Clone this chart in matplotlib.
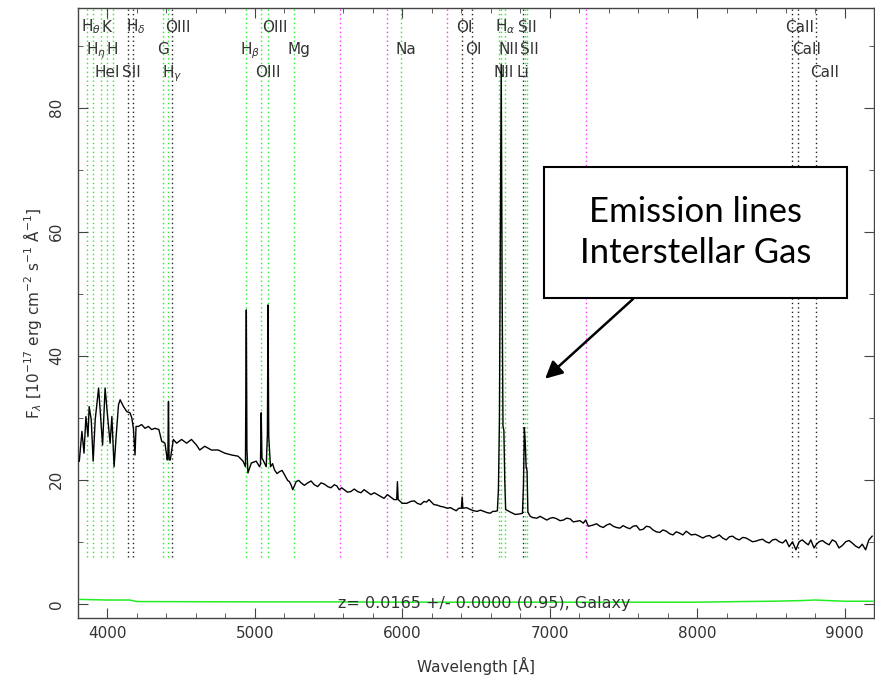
import numpy as np
import matplotlib.pyplot as plt
from matplotlib.patches import Rectangle

z = 0.0165

wave = [3809, 3827, 3841, 3854, 3868, 3876, 3890, 3903, 3917, 3940,
        3957, 3967, 3984, 4003, 4018, 4030, 4045, 4059, 4075, 4086,
        4109, 4131, 4153, 4165, 4176, 4187, 4194, 4210, 4232, 4255,
        4278, 4300, 4322, 4349, 4368, 4390, 4406, 4410, 4414, 4418,
        4426, 4447, 4469, 4503, 4537, 4570, 4604, 4626, 4660, 4705,
        4751, 4795, 4841, 4886, 4920, 4936, 4939, 4942, 4946, 4953,
        4976, 5009, 5032, 5038, 5043, 5048, 5055, 5077, 5085, 5089,
        5094, 5106, 5133, 5167, 5201, 5212, 5234, 5257, 5280, 5314,
        5359, 5403, 5449, 5494, 5539, 5572, 5606, 5651, 5697, 5741,
        5787, 5832, 5876, 5899, 5944, 5962, 5967, 5972, 6001, 6057,
        6102, 6147, 6181, 6214, 6260, 6305, 6349, 6383, 6401, 6406,
        6411, 6462, 6508, 6552, 6597, 6631, 6645, 6652, 6659, 6665,
        6671, 6677, 6683, 6689, 6695, 6701, 6732, 6766, 6800, 6815,
        6822, 6828, 6834, 6840, 6846, 6852, 6868, 6913, 6958, 7003,
        7048, 7093, 7138, 7183, 7228, 7244, 7262, 7295, 7341, 7386,
        7431, 7476, 7521, 7566, 7611, 7656, 7701, 7746, 7791, 7836,
        7880, 7926, 7960, 8015, 8062, 8106, 8150, 8197, 8241, 8286,
        8332, 8376, 8422, 8467, 8512, 8557, 8602, 8624, 8647, 8670,
        8692, 8737, 8771, 8793, 8827, 8872, 8917, 8962, 9008, 9052,
        9098, 9143, 9165, 9187]
flux = [23.0, 27.8, 24.3, 30.2, 27.0, 31.8, 29.7, 23.0, 29.7, 34.8,
        29.1, 25.6, 34.8, 29.7, 25.9, 30.2, 22.1, 27.0, 32.1, 32.9,
        31.8, 31.0, 30.8, 30.0, 28.3, 24.0, 28.6, 28.6, 28.9, 28.3,
        28.6, 28.1, 28.3, 28.1, 26.2, 25.9, 23.2, 24.0, 32.6, 23.2,
        23.2, 26.5, 25.9, 26.5, 25.9, 26.5, 25.6, 24.8, 25.4, 24.8,
        24.8, 24.3, 24.0, 23.8, 23.0, 22.1, 34.2, 47.4, 25.0, 21.1,
        22.7, 23.0, 22.1, 22.5, 30.8, 23.5, 23.2, 22.1, 27.3, 48.2,
        27.0, 22.1, 21.6, 21.3, 20.8, 20.3, 19.7, 18.4, 19.7, 19.5,
        19.5, 19.2, 19.5, 18.9, 19.2, 18.4, 18.4, 18.1, 18.1, 18.4,
        17.6, 17.6, 17.0, 17.6, 16.8, 16.8, 19.7, 16.8, 16.2, 16.5,
        16.2, 16.5, 16.8, 16.0, 15.7, 15.4, 15.2, 15.4, 15.4, 17.2,
        15.4, 15.2, 14.9, 14.9, 14.6, 14.9, 15.0, 18.4, 29.7, 60.0,
        87.0, 52.0, 28.6, 28.0, 20.0, 15.2, 14.8, 14.4, 14.5, 14.6,
        19.0, 28.4, 26.0, 22.1, 21.5, 14.8, 14.1, 13.8, 13.8, 13.8,
        13.7, 13.5, 13.7, 13.3, 13.0, 13.5, 12.5, 12.7, 12.5, 12.7,
        12.5, 12.2, 12.3, 12.5, 11.9, 12.5, 11.9, 11.5, 11.7, 11.1,
        11.4, 11.7, 11.1, 10.9, 10.9, 10.6, 11.1, 10.3, 10.9, 10.3,
        10.6, 10.0, 10.3, 10.0, 10.3, 10.0, 10.3, 9.2, 10.0, 8.7,
        10.0, 9.8, 10.3, 9.0, 10.0, 9.8, 10.3, 9.0, 10.0, 9.8,
        9.0, 8.7, 10.3, 10.9]

# finer wiggles of the continuum, read between the points above
wave_fine = [5120, 5150, 5185, 5222, 5245, 5268, 5297, 5336, 5381, 5426,
             5471, 5516, 5556, 5589, 5628, 5674, 5719, 5764, 5810, 5854,
             5921, 6030, 6080, 6125, 6164, 6198, 6237, 6282, 6327, 6366,
             6436, 6485, 6530, 6575, 6614, 6885, 6935, 6980, 7025, 7070,
             7115, 7160, 7205, 7318, 7363, 7408, 7453, 7498, 7543, 7588,
             7633, 7678, 7723, 7768, 7813, 7858, 7903, 7988, 8038, 8084,
             8128, 8173, 8219, 8263, 8309, 8354, 8399, 8444, 8489, 8534,
             8580, 8713, 8754, 8810, 8850, 8895, 8940, 8985, 9030, 9075,
             9120]
flux_fine = [22.6, 21.0, 21.5, 19.9, 19.2, 19.0, 19.9, 19.1, 19.8, 18.9,
             19.3, 18.7, 19.0, 18.7, 18.0, 18.5, 17.9, 18.0, 17.9, 17.3,
             17.2, 16.2, 16.6, 16.0, 16.4, 16.4, 15.9, 15.6, 15.5, 15.0,
             15.5, 15.0, 15.1, 14.7, 14.9, 13.9, 14.1, 13.5, 13.9, 13.4,
             13.8, 13.2, 13.4, 12.9, 12.3, 12.9, 12.3, 12.6, 12.1, 12.6,
             12.0, 12.4, 11.6, 11.9, 11.3, 11.6, 11.1, 11.2, 10.6, 11.0,
             10.8, 10.6, 10.8, 10.5, 10.7, 10.3, 10.1, 10.4, 9.8, 10.4,
             9.8, 10.3, 9.5, 9.6, 10.2, 9.5, 10.0, 9.4, 10.2, 9.3,
             9.6]

# green error curve near zero
err_wave = [3813, 3900, 4000, 4150, 4200, 5000, 5500, 6000, 7000, 8000,
            8300, 8500, 8700, 8800, 8900, 9000, 9192]
err_flux = [0.7, 0.65, 0.6, 0.6, 0.35, 0.3, 0.3, 0.25, 0.25, 0.25,
            0.35, 0.4, 0.5, 0.6, 0.5, 0.4, 0.4]

# line list: rest wavelength, label, label row, colour
line_rest = [3798.0, 3934.8, 4102.9, 4364.4, 5008.2, 6302.0, 6564.6, 6718.3, 8500.4,
             3836.5, 3969.6, 4305.6, 4862.7, 5176.7, 5895.6, 6365.5, 6585.2, 6732.7, 8544.4,
             3889.0, 4072.3, 4341.7, 4960.3, 6549.9, 6707.8, 8664.5]
line_name = [r'H$_\theta$', 'K', r'H$_\delta$', 'OIII', 'OIII', 'OI', r'H$_\alpha$', 'SII', 'CaII',
             r'H$_\eta$', 'H', 'G', r'H$_\beta$', 'Mg', 'Na', 'OI', 'NII', 'SII', 'CaII',
             'HeI', 'SII', r'H$_\gamma$', 'OIII', 'NII', 'Li', 'CaII']
line_row = [0, 0, 0, 0, 0, 0, 0, 0, 0,
            1, 1, 1, 1, 1, 1, 1, 1, 1, 1,
            2, 2, 2, 2, 2, 2, 2]
line_col = ['g', 'g', 'k', 'k', 'g', 'k', 'g', 'g', 'k',
            'g', 'g', 'g', 'g', 'g', 'g', 'k', 'g', 'g', 'k',
            'g', 'k', 'g', 'g', 'g', 'k', 'k']

sky_wave = [5578.5, 5894.6, 6301.7, 7246.0]

colmap = {'g': '#22ee22', 'k': '#222222'}
txt = '#333333'

w_all = np.array(wave + wave_fine)
f_all = np.array(flux + flux_fine)
order = np.argsort(w_all)
w_all, f_all = w_all[order], f_all[order]

fig = plt.figure(figsize=(8.75, 6.84), dpi=100)
ax = fig.add_axes([0.0891, 0.0965, 0.9098, 0.8918])

dots = (0, (1, 2.2))
for w in sky_wave:
    ax.plot([w, w], [7.5, 96], color='#ff33ff', lw=1, ls=dots, zorder=1)
row_y = [0.961, 0.924, 0.887]
for w, name, r, c in zip(line_rest, line_name, line_row, line_col):
    wo = w * (1 + z)
    ax.plot([wo, wo], [7.5, 96], color=colmap[c], lw=1, ls=dots, zorder=1)
    ax.text(wo - 42, row_y[r], name, transform=ax.get_xaxis_transform(),
            ha='left', va='baseline', fontsize=11, color=txt)

ax.plot(w_all, f_all, color='black', lw=1.0, zorder=3)
ax.plot(err_wave, err_flux, color='#22ee22', lw=1.1, zorder=3)

ax.text(6557, 0.1, 'z= 0.0165 +/- 0.0000 (0.95), Galaxy', ha='center', va='center',
        fontsize=11.5, color=txt, zorder=4)

ax.set_xlim(3813, 9192)
ax.set_ylim(-2.3, 96.1)
ax.set_xticks(np.arange(4000, 9001, 1000))
ax.set_xticks(np.arange(3800, 9201, 200), minor=True)
ax.set_yticks(np.arange(0, 81, 20))
ax.set_yticks(np.arange(0, 91, 10), minor=True)
ax.tick_params(which='both', direction='in', top=True, right=True, colors='#444444',
               labelcolor=txt, labelsize=11)
ax.tick_params(which='major', length=7)
ax.tick_params(which='minor', length=3.5)
ax.tick_params(axis='x', pad=6)
ax.tick_params(axis='y', pad=10, labelrotation=90)
for lab in ax.get_yticklabels():
    lab.set_va('center')
for s in ax.spines.values():
    s.set_color('#444444')
    s.set_linewidth(1)

ax.set_xlabel('Wavelength [Å]', fontsize=11, color=txt, labelpad=11)
ax.set_ylabel(r'F$_\lambda$ [10$^{-17}$ erg cm$^{-2}$ s$^{-1}$ Å$^{-1}$]',
              fontsize=11, color=txt, labelpad=4)

# annotation box
box = Rectangle((0.6217, 0.5643), 0.3463, 0.1915, transform=fig.transFigure,
                facecolor='white', edgecolor='black', lw=1.5, zorder=10)
fig.add_artist(box)
fig.text(0.7949, 0.6601, 'Emission lines\nInterstellar Gas', ha='center', va='center',
         fontsize=25, family='Lato', linespacing=1.32, zorder=11)
ax.annotate('', xy=(6969, 36.3), xycoords='data',
            xytext=(633 / 875, 1 - 299 / 684), textcoords='figure fraction',
            arrowprops=dict(arrowstyle='-|>', lw=1.8, color='black',
                            mutation_scale=26, shrinkA=0, shrinkB=0))

fig.savefig('out.png', dpi=100)
